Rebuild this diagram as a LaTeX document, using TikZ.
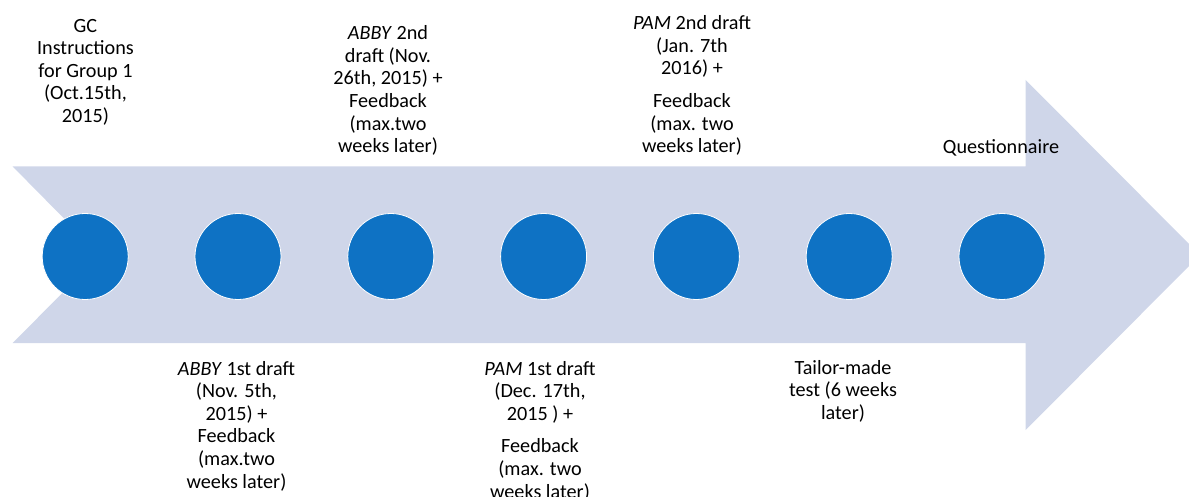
\documentclass[tikz,border=0pt]{standalone}
\usepackage{fontspec}
\setmainfont{Carlito}
\definecolor{shaftfill}{RGB}{207,214,233}
\definecolor{dotblue}{RGB}{14,114,196}
\begin{document}
\begin{tikzpicture}[x=1pt,y=-1pt,
  milestone/.style={circle, fill=dotblue, draw=white, line width=0.8pt,
    minimum size=86pt, inner sep=0pt},
  event/.style={align=center, inner sep=0pt, anchor=north,
    font=\fontsize{20.2}{22.6}\selectfont, text=black}]
\useasboundingbox (0,0) rectangle (1189,497);

% notched timeline arrow
\fill[shaftfill] (12.7,166.5) -- (1025.7,166.5) -- (1025.7,80) -- (1200,255)
  -- (1025.7,430) -- (1025.7,343) -- (12.7,343) -- (100,255) -- cycle;

% milestones
\foreach \i in {0,...,6}
  \node[milestone] (m\i) at (85.2+152.8*\i,256.5) {};

% events above the arrow
\node[event] (gc) at (85.5,16) {\strut GC\\Instructions\\for Group 1\\(Oct.15th,\\2015)};
\node[event] (abby2) at (388,23.6) {\strut\textit{ABBY} 2nd\\draft (Nov.\\26th, 2015) +\\Feedback\\(max.two\\weeks later)};
\node[event] (pam2) at (692,13.6) {\strut\textit{PAM} 2nd draft\\(Jan. 7th\\2016) +\\[10pt]Feedback\\(max. two\\weeks later)};
\node[event] (quest) at (1001,137) {\strut Questionnaire};

% events below the arrow
\node[event] (abby1) at (236.5,359) {\strut\textit{ABBY} 1st draft\\(Nov. 5th,\\2015) +\\Feedback\\(max.two\\weeks later)};
\node[event] (pam1) at (540,359) {\strut\textit{PAM} 1st draft\\(Dec. 17th,\\2015 ) +\\[10pt]Feedback\\(max. two\\weeks later)};
\node[event] (tailor) at (843,358) {\strut Tailor-made\\test (6 weeks\\later)};
\end{tikzpicture}
\end{document}
